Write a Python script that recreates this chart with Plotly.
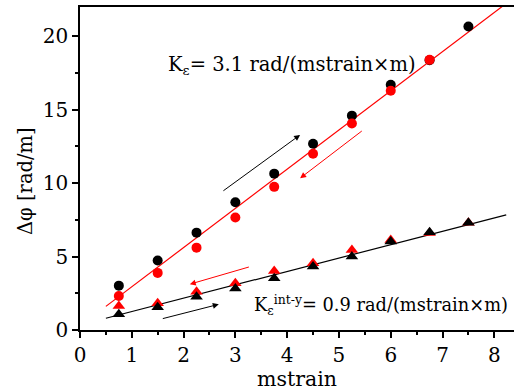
import plotly.graph_objects as go

strain = [0.75, 1.5, 2.25, 3.0, 3.75, 4.5, 5.25, 6.0, 6.75, 7.5]
phi_circ_black = [3.02, 4.73, 6.63, 8.70, 10.65, 12.68, 14.6, 16.7, 18.38, 20.67]
phi_circ_red = [2.32, 3.89, 5.61, 7.66, 9.75, 12.0, 14.07, 16.3, 18.4]
phi_tri_black = [1.07, 1.55, 2.27, 2.82, 3.52, 4.32, 5.0, 6.02, 6.66, 7.31]
phi_tri_red = [1.64, 1.82, 2.61, 3.18, 4.02, 4.55, 5.45, 6.13, 6.6, 7.3]

fit_red_x = [0.5, 8.3]
fit_red_y = [1.61, 22.43]
fit_black_x = [0.5, 8.23]
fit_black_y = [0.80, 7.84]

# arrows: (tail_x, tail_y, head_x, head_y, color)
arrows = [
    (2.74, 9.41, 4.25, 13.29, "black"),
    (5.47, 13.63, 4.25, 10.34, "red"),
    (3.29, 4.32, 2.12, 3.12, "red"),
    (1.57, 0.75, 2.68, 1.75, "black"),
]

label_main = "K<sub>ε</sub>= 3.1 rad/(mstrain×m)"
label_int = "K<sub>ε</sub><sup>int-y</sup>= 0.9 rad/(mstrain×m)"
y_title = "Δφ [rad/m]"
x_title = "mstrain"

FONT = "DejaVu Serif"
fig = go.Figure()

fig.add_trace(go.Scatter(x=fit_red_x, y=fit_red_y, mode="lines",
                         line=dict(color="red", width=1.2), showlegend=False))
fig.add_trace(go.Scatter(x=fit_black_x, y=fit_black_y, mode="lines",
                         line=dict(color="black", width=1.2), showlegend=False))
fig.add_trace(go.Scatter(x=strain, y=phi_circ_black, mode="markers",
                         marker=dict(color="black", size=10, symbol="circle"), showlegend=False))
fig.add_trace(go.Scatter(x=strain[:len(phi_circ_red)], y=phi_circ_red, mode="markers",
                         marker=dict(color="red", size=10, symbol="circle"), showlegend=False))
fig.add_trace(go.Scatter(x=strain, y=phi_tri_red, mode="markers",
                         marker=dict(color="red", size=11, symbol="triangle-up"), showlegend=False))
fig.add_trace(go.Scatter(x=strain, y=phi_tri_black, mode="markers",
                         marker=dict(color="black", size=11, symbol="triangle-up"), showlegend=False))

for tx, ty, hx, hy, c in arrows:
    fig.add_annotation(x=hx, y=hy, ax=tx, ay=ty, xref="x", yref="y", axref="x", ayref="y",
                       text="", showarrow=True, arrowhead=2, arrowsize=1.2, arrowwidth=1,
                       arrowcolor=c)

fig.add_annotation(x=1.67, y=18.0, xref="x", yref="y", text=label_main, showarrow=False,
                   xanchor="left", yanchor="middle", font=dict(family=FONT, size=19.5, color="black"))
fig.add_annotation(x=3.33, y=1.72, xref="x", yref="y", text=label_int, showarrow=False,
                   xanchor="left", yanchor="middle", font=dict(family=FONT, size=17.8, color="black"))

fig.add_annotation(x=-0.127, y=0.461, xref="paper", yref="paper", text=y_title, textangle=-90,
                   showarrow=False, xanchor="center", yanchor="middle",
                   font=dict(family=FONT, size=19.5, color="black"))

fig.update_layout(
    width=514, height=391,
    margin=dict(l=80, r=0, t=7, b=61),
    paper_bgcolor="white", plot_bgcolor="white",
    font=dict(family=FONT, size=20, color="black"),
    xaxis=dict(range=[0, 8.38], tickmode="linear", tick0=0, dtick=1,
               showgrid=False, zeroline=False, showline=True, linecolor="black", linewidth=1.5,
               mirror=True, ticks="outside", ticklen=6, tickwidth=1.5, tickcolor="black",
               tickfont=dict(family=FONT, size=20, color="black"),
               minor=dict(dtick=0.5, ticks="outside", ticklen=3, tickwidth=1.5, tickcolor="black"),
               title=dict(text=x_title, standoff=3, font=dict(family=FONT, size=20.5, color="black"))),
    yaxis=dict(range=[0, 22], tickmode="linear", tick0=0, dtick=5,
               showgrid=False, zeroline=False, showline=True, linecolor="black", linewidth=1.5,
               ticks="outside", ticklen=6, tickwidth=1.5, tickcolor="black",
               tickfont=dict(family=FONT, size=20, color="black"),
               minor=dict(dtick=2.5, ticks="outside", ticklen=3, tickwidth=1.5, tickcolor="black")),
)

fig.write_html("out.html")
